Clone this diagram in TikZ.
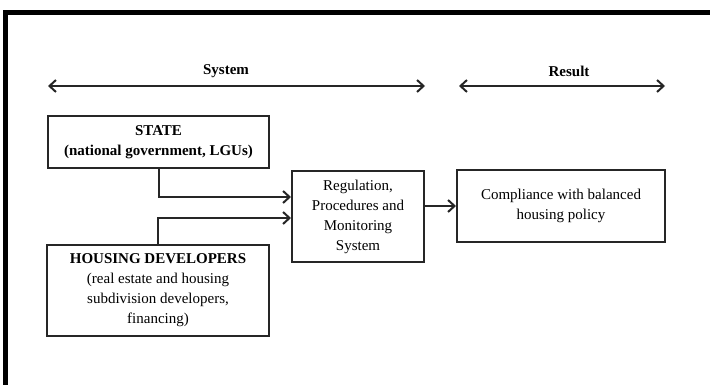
\documentclass[tikz,border=0pt]{standalone}
\usepackage{fontspec}
\setmainfont{Liberation Serif}
\usetikzlibrary{arrows.meta}
\begin{document}
\begin{tikzpicture}[x=1pt,y=-1pt,
  boxnode/.style={draw=black!85,line width=2pt,inner sep=0pt,align=center,
    font=\fontsize{15}{20}\selectfont},
  conn/.style={line width=2pt,draw=black!85,-{Straight Barb[length=6.5pt,width=12pt,line width=2pt]}},
  span/.style={line width=2pt,draw=black!85,{Straight Barb[length=6.5pt,width=12pt,line width=2pt]}-{Straight Barb[length=6.5pt,width=12pt,line width=2pt]}},
  lbl/.style={font=\fontsize{15}{18}\selectfont\bfseries,inner sep=0pt}]
\useasboundingbox (0,0) rectangle (710,385);
\fill[white] (0,0) rectangle (710,385);
% frame (partly cropped)
\begin{scope}
\clip (0,0) rectangle (710,385);
\draw[line width=5pt] (5.8,395) -- (5.8,12.5) -- (720,12.5);
\end{scope}
% spans
\coordinate (sysL) at (48,86);
\coordinate (sysR) at (425,86);
\coordinate (resL) at (459,86);
\coordinate (resR) at (665,86);
\draw[span] (sysL) -- (sysR);
\draw[span] (resL) -- (resR);
\node[lbl] (syslbl) at (226,71) {System};
\node[lbl] (reslbl) at (569,71) {Result};
% boxes
\node[boxnode,minimum width=221,minimum height=52] (state) at (158.5,142)
  {\bfseries STATE\\ \bfseries (national government, LGUs)};
\node[boxnode,minimum width=222,minimum height=91] (dev) at (158,290.5)
  {\bfseries HOUSING DEVELOPERS\\ (real estate and housing\\ subdivision developers,\\ financing)};
\node[boxnode,minimum width=132,minimum height=91] (reg) at (358,216.5)
  {Regulation,\\ Procedures and\\ Monitoring\\ System};
\node[boxnode,minimum width=208,minimum height=72] (comp) at (561,206)
  {Compliance with balanced\\ housing policy};
% connectors
\draw[conn] (state.south) |- ([yshift=19.5pt]reg.west);
\draw[conn] (dev.north) |- ([yshift=-1.5pt]reg.west);
\draw[conn] (reg.east |- comp.west) -- (comp.west);
\end{tikzpicture}
\end{document}
